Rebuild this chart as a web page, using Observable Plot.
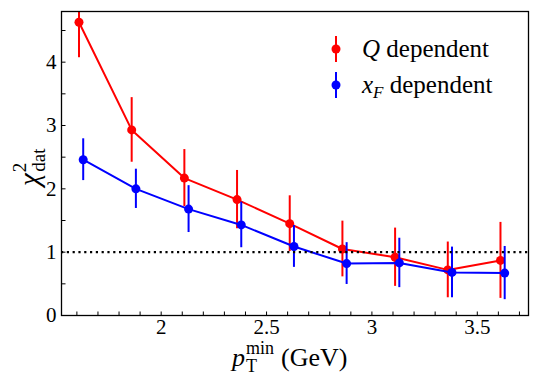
<!DOCTYPE html>
<html>
<head>
<meta charset="utf-8">
<script src="https://cdn.jsdelivr.net/npm/d3@7"></script>
<script src="https://cdn.jsdelivr.net/npm/@observablehq/plot@0.6"></script>
<style>
  html, body { margin: 0; padding: 0; background: #fff; }
  #chart { width: 540px; height: 386px; }
</style>
</head>
<body>
<div id="chart"></div>
<script>
// ---- data ----
const ptRed  = [1.61, 1.86, 2.11, 2.36, 2.61, 2.86, 3.11, 3.36, 3.61];
const ptBlue = [1.63, 1.88, 2.13, 2.38, 2.63, 2.88, 3.13, 3.38, 3.63];
const chiQ   = [4.63, 2.93, 2.17, 1.83, 1.45, 1.05, 0.92, 0.72, 0.87];
const errQ   = [0.56, 0.51, 0.45, 0.46, 0.44, 0.44, 0.46, 0.44, 0.60];
const chiXF  = [2.46, 2.00, 1.68, 1.43, 1.09, 0.82, 0.83, 0.68, 0.67];
const errXF  = [0.33, 0.31, 0.37, 0.36, 0.33, 0.33, 0.39, 0.40, 0.42];
const refLine = [1];

const xMajorTicks = [2, 2.5, 3, 3.5];
const xMinorTicks = [1.6, 1.7, 1.8, 1.9, 2.0, 2.1, 2.2, 2.3, 2.4, 2.5, 2.6, 2.7, 2.8, 2.9, 3.0, 3.1, 3.2, 3.3, 3.4, 3.5, 3.6, 3.7];
const yMajorTicks = [0, 1, 2, 3, 4];
const yAllTicks = [0, 0.5, 1, 1.5, 2, 2.5, 3, 3.5, 4, 4.5];
const xDomain = [1.527, 3.743];
const yDomain = [0, 4.8];
const legendLabels = ["Q dependent", "x_F dependent"];

const RED = "#ff0000", BLUE = "#0000ff";
const FONT = "'Liberation Serif', 'DejaVu Serif', serif";

const rows = (xs, ys, es, s) => xs.map((x, i) => ({x, y: ys[i], lo: ys[i] - es[i], hi: ys[i] + es[i], s}));
const red = rows(ptRed, chiQ, errQ, "Q");
const blue = rows(ptBlue, chiXF, errXF, "xF");

const series = (data, color) => [
  Plot.line(data, {x: "x", y: "y", stroke: color, strokeWidth: 2}),
  Plot.ruleX(data, {x: "x", y1: "lo", y2: "hi", stroke: color, strokeWidth: 2, clip: true}),
  Plot.dot(data, {x: "x", y: "y", r: 4.5, fill: color, stroke: "none"})
];

const plot = Plot.plot({
  width: 540,
  height: 386,
  marginLeft: 61,
  marginRight: 12,
  marginTop: 11,
  marginBottom: 71,
  style: {fontFamily: FONT, fontSize: "20px", color: "#000", background: "#fff"},
  x: {type: "linear", domain: xDomain},
  y: {type: "linear", domain: yDomain},
  marks: [
    ...series(red, RED),
    ...series(blue, BLUE),
    Plot.ruleY(refLine, {y: d => d, stroke: "#000", strokeWidth: 2.2, strokeDasharray: "2.2,3.6"}),
    Plot.axisX(xMinorTicks, {anchor: "bottom", tickSize: -3.5, tickFormat: () => "", label: null}),
    Plot.axisX(xMajorTicks, {anchor: "bottom", tickSize: 0, tickPadding: 4, tickFormat: d => String(d), label: null, fontSize: 21}),
    Plot.axisY(yAllTicks, {anchor: "left", tickSize: -4.5, tickFormat: () => "", label: null}),
    Plot.axisY(yMajorTicks, {anchor: "left", tickSize: 0, tickPadding: 5, tickFormat: d => String(d), label: null, fontSize: 21}),
    Plot.frame({stroke: "#000", strokeWidth: 1.3})
  ]
});

document.getElementById("chart").appendChild(plot);

// ---- text decorations: axis titles and legend ----
const svg = d3.select(plot);

// x-axis title: p_T^min (GeV)
const xt = svg.append("text")
  .attr("x", 232).attr("y", 366).attr("text-anchor", "start")
  .attr("font-family", FONT).attr("font-size", 26).attr("fill", "#000");
xt.append("tspan").attr("font-style", "italic").text("p");
xt.append("tspan").attr("font-size", 18).attr("dy", -12).attr("dx", 1).text("min");
xt.append("tspan").attr("font-size", 18).attr("dy", 18).attr("dx", -28).text("T");
xt.append("tspan").attr("dy", -6).attr("dx", 24).text("(GeV)");

// y-axis title: chi^2_dat
const yt = svg.append("text")
  .attr("transform", "translate(39,186) rotate(-90)").attr("text-anchor", "start")
  .attr("font-family", FONT).attr("font-size", 29).attr("fill", "#000");
yt.append("tspan").attr("font-style", "italic").text("χ");
yt.append("tspan").attr("font-size", 19).attr("dy", -13).attr("dx", 1).text("2");
yt.append("tspan").attr("font-size", 19).attr("dy", 19).attr("dx", -9).text("dat");

// legend
const legendItems = [
  {color: RED, y: 49, label: legendLabels[0]},
  {color: BLUE, y: 85, label: legendLabels[1]}
];
legendItems.forEach(item => {
  const g = svg.append("g");
  g.append("line").attr("x1", 336).attr("x2", 336).attr("y1", item.y - 13).attr("y2", item.y + 13)
    .attr("stroke", item.color).attr("stroke-width", 2);
  g.append("circle").attr("cx", 336).attr("cy", item.y).attr("r", 4.5).attr("fill", item.color);
  const t = g.append("text").attr("x", 362).attr("y", item.y + 8).attr("text-anchor", "start")
    .attr("font-family", FONT).attr("font-size", 25).attr("fill", "#000");
  const sp = item.label.indexOf(" ");
  const head = item.label.slice(0, sp), rest = item.label.slice(sp);
  if (head.includes("_")) {
    const [base, sub] = head.split("_");
    t.append("tspan").attr("font-style", "italic").text(base);
    t.append("tspan").attr("font-style", "italic").attr("font-size", 17).attr("dy", 5).text(sub);
    t.append("tspan").attr("dy", -5).text(rest);
  } else {
    t.append("tspan").attr("font-style", "italic").text(head);
    t.append("tspan").text(rest);
  }
});
</script>
</body>
</html>
